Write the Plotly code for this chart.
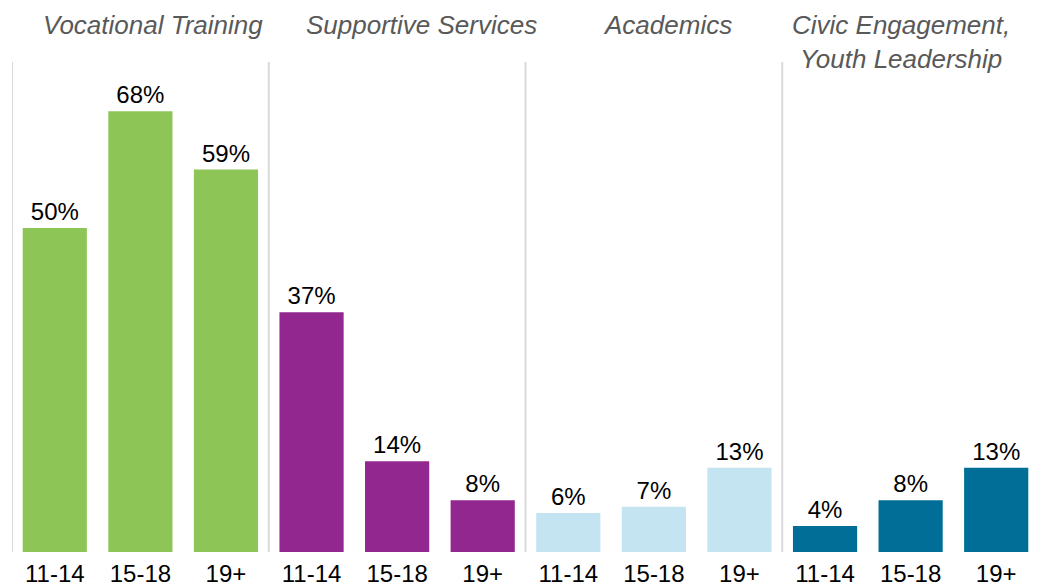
import plotly.graph_objects as go

age_groups = ["11-14", "15-18", "19+"]
group_titles = ["Vocational Training", "Supportive Services", "Academics",
                "Civic Engagement,<br>Youth Leadership"]
vocational = [50, 68, 59]
supportive = [37, 14, 8]
academics = [6, 7, 13]
civic = [4, 8, 13]
series = [vocational, supportive, academics, civic]
colors = ["#8DC657", "#92278F", "#C5E4F2", "#006E96"]

FONT = "Liberation Sans, Arial, sans-serif"

fig = go.Figure()
tickvals, ticktext = [], []
for g, (vals, col) in enumerate(zip(series, colors)):
    xs = [g * 3 + i for i in range(len(age_groups))]
    tickvals += xs
    ticktext += age_groups
    fig.add_trace(go.Bar(
        x=xs, y=vals, marker=dict(color=col, line=dict(width=0)),
        width=0.75, text=[f"{v}%" for v in vals], textposition="outside",
        textfont=dict(family=FONT, size=24, color="#000000"),
        cliponaxis=False, showlegend=False, hoverinfo="skip"))

# separators
for sx in [-0.5, 2.5, 5.5, 8.5]:
    fig.add_shape(type="line", xref="x", yref="paper", x0=sx, x1=sx, y0=0, y1=1,
                  line=dict(color="#D9D9D9", width=2))

title_x = [1.15, 4.28, 7.16, 9.89]
title_shift = [37, 37, 37, 20]
for t, tx, ys in zip(group_titles, title_x, title_shift):
    fig.add_annotation(text=f"<i>{t}</i>", x=tx, xref="x", y=1, yref="paper",
                       yanchor="middle", yshift=ys, showarrow=False,
                       font=dict(family=FONT, size=26, color="#595959"))

# page body has an 8px margin: shrink figure so it ends at the window edge
fig.update_layout(
    width=1031, height=579,
    margin=dict(l=4, r=0, t=54, b=33),
    plot_bgcolor="white", paper_bgcolor="white",
    xaxis=dict(range=[-0.5, 11.5], tickvals=tickvals, ticktext=ticktext,
               showgrid=False, zeroline=False, showline=False, ticks="",
               ticklabelstandoff=5,
               tickfont=dict(family=FONT, size=24, color="#000000")),
    yaxis=dict(range=[0, 75.6], visible=False),
)

fig.write_html("out.html")
